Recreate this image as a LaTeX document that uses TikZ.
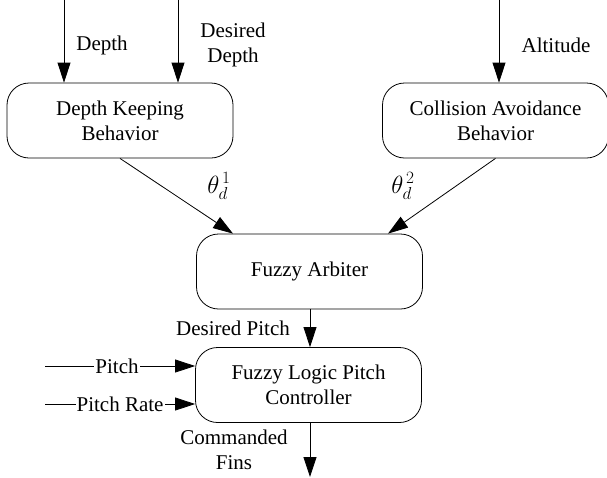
\documentclass[tikz,border=0pt]{standalone}
\usepackage{fontspec}
\setmainfont{Liberation Serif}
\usetikzlibrary{arrows.meta,calc}
\begin{document}
\begin{tikzpicture}[x=1pt,y=-1pt,
  font=\fontsize{21}{25}\selectfont,
  blk/.style={draw, line width=0.8pt, rounded corners=22pt, minimum width=226pt, minimum height=75pt, align=center, inner sep=0pt},
  arr/.style={line width=0.8pt, -{Triangle[length=20pt,width=13pt]}},
  lbl/.style={align=center, inner sep=1pt},
  thl/.style={inner sep=0pt, font=\fontsize{27}{30}\selectfont}]
\useasboundingbox (0,0) rectangle (607,477);
\node[blk] (dk) at (120,120.5) {Depth Keeping\\Behavior};
\node[blk] (ca) at (495.5,120.5) {Collision Avoidance\\Behavior};
\node[blk] (fa) at (309.5,271.5) {Fuzzy Arbiter};
\node[blk] (fl) at (308.5,385) {Fuzzy Logic Pitch\\Controller};
\coordinate (t1) at (64,0);
\coordinate (t2) at (178,0);
\coordinate (t3) at (499,0);
\coordinate (p1) at (45,366);
\coordinate (p2) at (45,404);
\coordinate (out) at (310,477);
\draw[arr] (t1) -- (t1 |- dk.north);
\draw[arr] (t2) -- (t2 |- dk.north);
\draw[arr] (t3) -- (t3 |- ca.north);
\node[lbl] (ldepth) at (102,45) {Depth};
\node[lbl] (ldd) at (233,45) {Desired\\Depth};
\node[lbl] (lalt) at (556,45) {Altitude};
\draw[arr] (dk.south) -- ([xshift=-76.5pt]fa.north);
\draw[arr] (ca.south) -- ([xshift=78.5pt]fa.north);
\node[thl] (th1) at (219,186) {$\theta^{\,1}_{d}$};
\node[thl] (th2) at (403,186) {$\theta^{\,2}_{d}$};
\draw[arr] (fa.south -| out) -- (fl.north -| out);
\node[lbl] (ldp) at (233,328) {Desired Pitch};
\draw[arr] (p1) -- (p1 -| fl.west) node[pos=0.48, fill=white, inner sep=1pt] (lp) {Pitch};
\draw[arr] (p2) -- (p2 -| fl.west) node[pos=0.50, fill=white, inner sep=1pt] (lpr) {Pitch Rate};
\draw[arr] (fl.south -| out) -- (out);
\node[lbl] (lcf) at (234,450) {Commanded\\Fins};
\end{tikzpicture}
\end{document}
